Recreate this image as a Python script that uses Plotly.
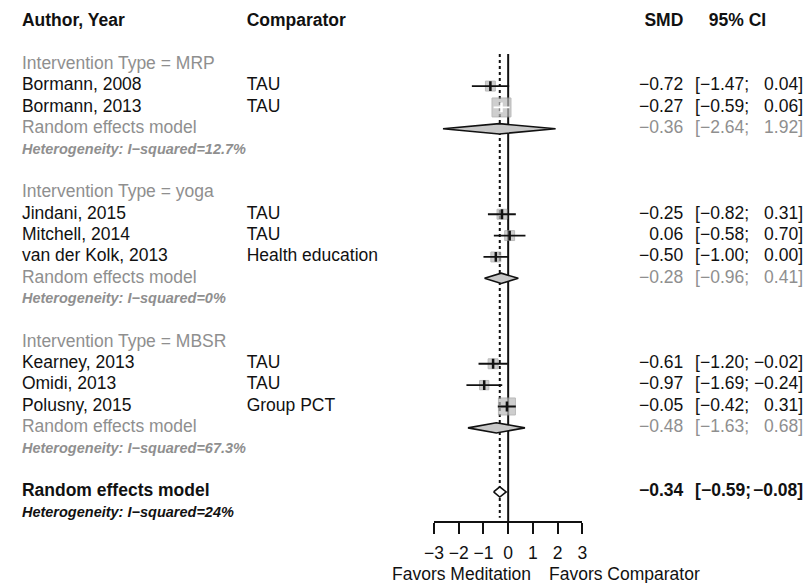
import plotly.graph_objects as go

# ---------------- data ----------------
groups = ["MRP", "yoga", "MBSR"]
group_i2 = ["12.7%", "0%", "67.3%"]
group_smd = [-0.36, -0.28, -0.48]
group_lo = [-2.64, -0.96, -1.63]
group_hi = [1.92, 0.41, 0.68]

study_group = ["MRP", "MRP", "yoga", "yoga", "yoga", "MBSR", "MBSR", "MBSR"]
studies = ["Bormann, 2008", "Bormann, 2013", "Jindani, 2015", "Mitchell, 2014",
           "van der Kolk, 2013", "Kearney, 2013", "Omidi, 2013", "Polusny, 2015"]
comparators = ["TAU", "TAU", "TAU", "TAU", "Health education", "TAU", "TAU", "Group PCT"]
smd = [-0.72, -0.27, -0.25, 0.06, -0.50, -0.61, -0.97, -0.05]
ci_lo = [-1.47, -0.59, -0.82, -0.58, -1.00, -1.20, -1.69, -0.42]
ci_hi = [0.04, 0.06, 0.31, 0.70, 0.00, -0.02, -0.24, 0.31]
weights = [8.5, 31.0, 8.5, 8.5, 8.5, 8.5, 7.5, 25.0]  # estimated from square sizes

overall_smd = -0.34
overall_lo = -0.59
overall_hi = -0.08
overall_i2 = "24%"

tick_vals = [-3, -2, -1, 0, 1, 2, 3]
label_left = "Favors Meditation"
label_right = "Favors Comparator"

# ---------------- geometry (reference pixels, page has 8px body margin) ----------------
OFF = 8
W, H = 811 - OFF, 583 - OFF
ROW0, ROWH, AXIS_PX = 22.0 - OFF, 21.36, 521.0 - OFF
y_bottom = (AXIS_PX - ROW0) / ROWH
y_top = -ROW0 / ROWH
X_LEFT_PX, X_RIGHT_PX = 432.0 - OFF, 583.0 - OFF

FONT = "Liberation Sans, Arial, sans-serif"
FS = 17.5
FS_HET = 14.5
BLACK = "#111111"
GRAY = "#8f8f8f"


def fmt(v):
    s = f"{abs(v):.2f}"
    return ("\u2212" + s) if v < 0 else s


# assign rows
study_rows = []
grp_rows = []
r = 2
for g in groups:
    idx = [i for i, sg in enumerate(study_group) if sg == g]
    hdr = r
    for k, i in enumerate(idx):
        study_rows.append((i, r + 1 + k))
    re_row = r + len(idx) + 1
    het_row = re_row + 1
    grp_rows.append((hdr, re_row, het_row))
    r = r + len(idx) + 4
overall_row = r
overall_het_row = r + 1

fig = go.Figure()

# reference lines
fig.add_trace(go.Scatter(x=[0, 0], y=[1.5, y_bottom], mode="lines",
                         line=dict(color=BLACK, width=2), hoverinfo="skip"))
fig.add_trace(go.Scatter(x=[overall_smd, overall_smd], y=[1.5, y_bottom - 0.15], mode="lines",
                         line=dict(color=BLACK, width=2, dash="dot"), hoverinfo="skip"))

# squares
SQ = 3.4
sx, sy, ss = [], [], []
for i, rr in study_rows:
    sx.append(smd[i]); sy.append(rr); ss.append(SQ * weights[i] ** 0.5)
fig.add_trace(go.Scatter(x=sx, y=sy, mode="markers",
                         marker=dict(symbol="square", size=ss, color="#bababa",
                                     line=dict(color="#9e9e9e", width=1)),
                         hoverinfo="skip"))

# CI lines
for i, rr in study_rows:
    inside = (ci_hi[i] - ci_lo[i]) * (X_RIGHT_PX - X_LEFT_PX) / 6 < SQ * weights[i] ** 0.5
    col = "white" if inside else BLACK
    fig.add_trace(go.Scatter(x=[ci_lo[i], ci_hi[i]], y=[rr, rr], mode="lines",
                             line=dict(color=col, width=1.8), hoverinfo="skip"))
    fig.add_trace(go.Scatter(x=[smd[i]], y=[rr], mode="markers",
                             marker=dict(symbol="line-ns", size=7,
                                         line=dict(color=col, width=2.5)),
                             hoverinfo="skip"))

# diamonds
DH = 0.24
for gi, (hdr, re_row, het_row) in enumerate(grp_rows):
    fig.add_trace(go.Scatter(
        x=[group_lo[gi], group_smd[gi], group_hi[gi], group_smd[gi], group_lo[gi]],
        y=[re_row, re_row - DH, re_row, re_row + DH, re_row],
        mode="lines", fill="toself", fillcolor="#c8c8c8",
        line=dict(color=BLACK, width=1.6), hoverinfo="skip"))
fig.add_trace(go.Scatter(
    x=[overall_lo, overall_smd, overall_hi, overall_smd, overall_lo],
    y=[overall_row, overall_row - DH, overall_row, overall_row + DH, overall_row],
    mode="lines", fill="toself", fillcolor="white",
    line=dict(color=BLACK, width=1.6), hoverinfo="skip"))


# text table, drawn as text traces on a full-width pixel axis (x2)
def txt(x, y, t, color=BLACK, size=FS, anchor="left", bold=False, italic=False):
    if bold:
        t = f"<b>{t}</b>"
    if italic:
        t = f"<i>{t}</i>"
    pos = "middle right" if anchor == "left" else "middle left"
    fig.add_trace(go.Scatter(x=[x], y=[y], xaxis="x2", yaxis="y", mode="text",
                             text=[t], textposition=pos, cliponaxis=False,
                             marker=dict(size=0.01),
                             textfont=dict(family=FONT, size=size, color=color),
                             hoverinfo="skip"))


COL1, COL2, COL_SMD, COL_CI_L, COL_CI_R = 12, 241, 686, 698, 808

# header
txt(COL1, 0, "Author, Year", bold=True)
txt(COL2, 0, "Comparator", bold=True)
txt(COL_SMD, 0, "SMD", bold=True, anchor="right")
txt(712, 0, "95% CI", bold=True)


def ci_text(y, est, lo, hi, color=BLACK, bold=False):
    txt(COL_SMD, y, fmt(est), color=color, anchor="right", bold=bold)
    txt(COL_CI_L, y, "[" + fmt(lo) + ";", color=color, anchor="left", bold=bold)
    txt(COL_CI_R, y, fmt(hi) + "]", color=color, anchor="right", bold=bold)


for gi, (hdr, re_row, het_row) in enumerate(grp_rows):
    txt(COL1, hdr, f"Intervention Type = {groups[gi]}", color=GRAY)
    txt(COL1, re_row, "Random effects model", color=GRAY)
    txt(COL1, het_row, f"Heterogeneity: I\u2212squared={group_i2[gi]}", color=GRAY,
        size=FS_HET, bold=True, italic=True)
    ci_text(re_row, group_smd[gi], group_lo[gi], group_hi[gi], color=GRAY)

for i, rr in study_rows:
    txt(COL1, rr, studies[i])
    txt(COL2, rr, comparators[i])
    ci_text(rr, smd[i], ci_lo[i], ci_hi[i])

txt(COL1, overall_row, "Random effects model", bold=True)
txt(COL1, overall_het_row, f"Heterogeneity: I\u2212squared={overall_i2}", size=FS_HET,
    bold=True, italic=True)
ci_text(overall_row, overall_smd, overall_lo, overall_hi, bold=True)

# bottom labels (centered annotations)
ann = []
for x, t in [(460, label_left), (626, label_right)]:
    ann.append(dict(x=(x - OFF) / W, y=1 - (574 - OFF) / H, xref="paper", yref="paper",
                    text=t, showarrow=False, xanchor="center", yanchor="middle",
                    borderpad=0, borderwidth=0,
                    font=dict(family=FONT, size=FS, color=BLACK)))

fig.update_layout(
    width=W, height=H, margin=dict(l=0, r=0, t=0, b=0),
    paper_bgcolor="white", plot_bgcolor="rgba(0,0,0,0)",
    showlegend=False, annotations=ann,
    xaxis=dict(domain=[X_LEFT_PX / W, X_RIGHT_PX / W], range=[-3, 3],
               tickvals=tick_vals,
               ticktext=[fmt(v).replace(".00", "") for v in tick_vals],
               showgrid=False, zeroline=False, showline=True,
               linecolor=BLACK, linewidth=2, ticks="outside", ticklen=11,
               tickwidth=2, tickcolor=BLACK, ticklabelstandoff=4,
               tickfont=dict(family=FONT, size=FS, color=BLACK), fixedrange=True),
    xaxis2=dict(domain=[0, 1], range=[OFF, 811], anchor="y", visible=False,
                fixedrange=True),
    yaxis=dict(domain=[1 - AXIS_PX / H, 1], range=[y_bottom, y_top], visible=False,
               fixedrange=True),
)

fig.write_html("out.html")
